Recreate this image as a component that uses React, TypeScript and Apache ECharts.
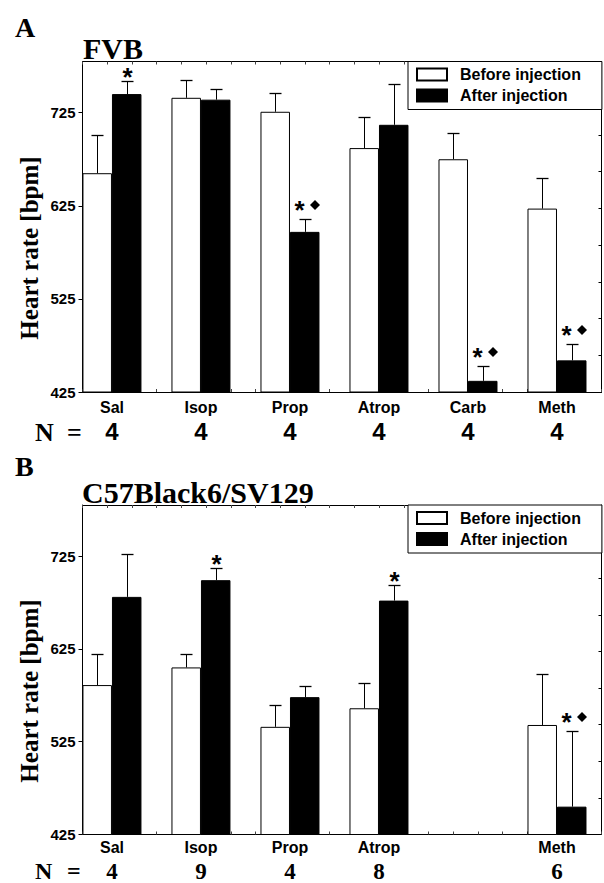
import React, { useEffect, useRef } from 'react';
import * as echarts from 'echarts';

// ---------- data ----------
const categoriesA = ['Sal', 'Isop', 'Prop', 'Atrop', 'Carb', 'Meth'];
const nA = [4, 4, 4, 4, 4, 4];
const beforeA = [660, 741, 726, 687, 675, 622];
const beforeErrA = [701, 760, 746, 720, 703, 655];
const afterA = [745, 739, 597, 712, 437, 459];
const afterErrA = [759, 750, 611, 756, 453, 477];
const markersA = ['*', '', '*◆', '', '*◆', '*◆'];

const categoriesB = ['Sal', 'Isop', 'Prop', 'Atrop', '', 'Meth'];
const nB: (number | null)[] = [4, 9, 4, 8, null, 6];
const beforeB: (number | null)[] = [586, 605, 541, 561, null, 543];
const beforeErrB: (number | null)[] = [620, 620, 565, 588, null, 598];
const afterB: (number | null)[] = [681, 699, 573, 677, null, 455];
const afterErrB: (number | null)[] = [727, 712, 585, 694, null, 536];
const markersB = ['', '*', '', '*', '', '*◆'];

const yTickValues = [425, 525, 625, 725];
const Y_MIN = 425;
const Y_MAX = 780;

const SERIES_BEFORE = 'Before injection';
const SERIES_AFTER = 'After injection';

// ---------- style constants ----------
const SANS = '"Liberation Sans", Arial, Helvetica, sans-serif';
const SERIF = '"Liberation Serif", "Times New Roman", serif';
const BAR_W = 29.5;
const CAP = 12;
const STAR_SIZE = 26;

function star(x: number, y: number) {
  return {
    type: 'text',
    style: {
      text: '*', x, y: y + STAR_SIZE * 0.21, fill: '#000', fontSize: STAR_SIZE, fontWeight: 'bold', fontFamily: SANS,
      align: 'center', verticalAlign: 'middle', lineHeight: 12,
    },
  };
}
function diamond(x: number, y: number) {
  return {
    type: 'polygon',
    shape: { points: [[x, y - 5], [x + 5, y], [x, y + 5], [x - 5, y]] },
    style: { fill: '#000' },
  };
}

function makeErr(side: number, markers: string[]) {
  return (params: any, api: any) => {
    const x = api.value(0);
    const v = api.value(1);
    const e = api.value(2);
    if (isNaN(v) || isNaN(e)) return null;
    const b = api.coord([x, v]);
    const t = api.coord([x, e]);
    const cx = Math.round(b[0] + (side * BAR_W) / 2) + 0.5;
    const ty = Math.round(t[1]) + 0.5;
    const children: any[] = [
      { type: 'line', shape: { x1: cx, y1: b[1], x2: cx, y2: ty }, style: { stroke: '#000', lineWidth: 1 } },
      { type: 'line', shape: { x1: cx - CAP / 2, y1: ty, x2: cx + CAP / 2, y2: ty }, style: { stroke: '#000', lineWidth: 1.3 } },
    ];
    const m = markers[params.dataIndex] || '';
    if (m === '*') {
      children.push(star(cx, ty - 9.5));
    } else if (m) {
      children.push(star(cx - 6, ty - 14.5));
      children.push(diamond(cx + 9.5, ty - 14.5));
    }
    return { type: 'group', children };
  };
}

function pairs(vals: (number | null)[]) {
  return vals.map((v, i) => [i, v == null ? null : v]);
}
function triples(vals: (number | null)[], errs: (number | null)[]) {
  return vals.map((v, i) => [i, v == null ? null : v, errs[i] == null ? null : errs[i]]);
}

function panelAxes(gridIndex: number, cats: string[], ns: (number | null)[], nFont: string, nSize: number, margin: number) {
  const idx = cats.map((c, i) => (c ? i : -1)).filter((i) => i >= 0);
  const xAxes = [
    {
      type: 'value', gridIndex, position: 'bottom', min: -0.331, max: 5.5,
      axisLine: { show: true, onZero: false, lineStyle: { color: '#000', width: 1 } },
      axisTick: { show: false },
      splitLine: { show: false },
      axisLabel: {
        show: true, customValues: idx, margin, interval: 0, hideOverlap: false,
        formatter: (val: number) => {
          const i = Math.round(val);
          return `{c|${cats[i]}}\n{n|${ns[i] ?? ''}}`;
        },
        rich: {
          c: { fontSize: 16, fontWeight: 'bold', fontFamily: SANS, color: '#000', lineHeight: 24 },
          n: { fontSize: nSize, fontWeight: 'bold', fontFamily: nFont, color: '#000', lineHeight: 24 },
        },
      },
    },
    {
      type: 'value', gridIndex, position: 'top', min: 0, max: 21, interval: 1,
      axisLine: { show: true, onZero: false, lineStyle: { color: '#000', width: 1 } },
      axisTick: { show: true, inside: true, length: 3, lineStyle: { color: '#444', width: 1 } },
      axisLabel: { show: false },
      splitLine: { show: false },
    },
    {
      type: 'value', gridIndex, position: 'bottom', min: 0, max: 21, interval: 1,
      axisLine: { show: false, onZero: false },
      axisTick: { show: true, inside: true, length: 3, lineStyle: { color: '#444', width: 1 } },
      axisLabel: { show: false },
      splitLine: { show: false },
    },
  ];
  const yAxes = [
    {
      type: 'value', gridIndex, position: 'left', min: Y_MIN, max: Y_MAX,
      axisLine: { show: true, onZero: false, lineStyle: { color: '#000', width: 1 } },
      axisTick: { show: true, inside: false, length: 4, customValues: yTickValues, lineStyle: { color: '#000' } },
      axisLabel: {
        show: true, customValues: yTickValues, margin: 7, color: '#000',
        fontSize: 15, fontWeight: 'bold', fontFamily: SANS,
      },
      splitLine: { show: false },
    },
    {
      type: 'value', gridIndex, position: 'right', min: 0, max: 9, interval: 1,
      axisLine: { show: true, onZero: false, lineStyle: { color: '#000', width: 1 } },
      axisTick: { show: true, inside: true, length: 3, lineStyle: { color: '#000' } },
      axisLabel: { show: false },
      splitLine: { show: false },
    },
  ];
  return { xAxes, yAxes };
}

function panelSeries(
  xAxisIndex: number, yAxisIndex: number,
  before: (number | null)[], beforeErr: (number | null)[],
  after: (number | null)[], afterErr: (number | null)[], markers: string[],
) {
  return [
    {
      type: 'bar', name: SERIES_BEFORE, xAxisIndex, yAxisIndex, barWidth: BAR_W, barGap: '0%',
      itemStyle: { color: '#fff', borderColor: '#000', borderWidth: 1 },
      data: pairs(before), z: 2,
    },
    {
      type: 'bar', name: SERIES_AFTER, xAxisIndex, yAxisIndex, barWidth: BAR_W, barGap: '0%',
      itemStyle: { color: '#000', borderColor: '#000', borderWidth: 1 },
      data: pairs(after), z: 2,
    },
    {
      type: 'custom', xAxisIndex, yAxisIndex, renderItem: makeErr(-1, ['', '', '', '', '', '']),
      data: triples(before, beforeErr), z: 3, silent: true, clip: false,
      encode: { x: 0, y: 1 },
    },
    {
      type: 'custom', xAxisIndex, yAxisIndex, renderItem: makeErr(1, markers),
      data: triples(after, afterErr), z: 3, silent: true, clip: false,
      encode: { x: 0, y: 1 },
    },
  ];
}

function legendFor(top: number) {
  return {
    left: 408, top, orient: 'vertical', icon: 'rect',
    data: [SERIES_BEFORE, SERIES_AFTER],
    itemWidth: 30, itemHeight: 12, itemGap: 5,
    padding: [5, 21, 6, 8],
    borderColor: '#000', borderWidth: 1, backgroundColor: '#fff',
    selectedMode: false,
    textStyle: { fontSize: 16, fontWeight: 'bold', fontFamily: SANS, color: '#000', lineHeight: 16, padding: [0, 0, 0, 8] },
    z: 10,
  };
}

function txt(text: string, x: number, y: number, size: number, family: string, align = 'left', rotation = 0) {
  return {
    type: 'text', x, y, rotation,
    style: { text, x: 0, y: 0, fill: '#000', fontSize: size, fontWeight: 'bold', fontFamily: family, align, verticalAlign: 'middle' },
  };
}

export default function App() {
  const ref = useRef<HTMLDivElement>(null);
  useEffect(() => {
    if (!ref.current) return;
    const chart = echarts.init(ref.current, undefined, { renderer: 'svg' });
    const a = panelAxes(0, categoriesA, nA, SANS, 24, 3);
    const b = panelAxes(1, categoriesB, nB, SERIF, 23, 1);
    const option: any = {
      animation: false,
      backgroundColor: '#fff',
      grid: [
        { left: 82.5, top: 61.5, width: 519, height: 330.5 },
        { left: 82.5, top: 505, width: 519, height: 330 },
      ],
      xAxis: [...a.xAxes, ...b.xAxes],
      yAxis: [...a.yAxes, ...b.yAxes],
      legend: [legendFor(61.5), legendFor(505)],
      series: [
        ...panelSeries(0, 0, beforeA, beforeErrA, afterA, afterErrA, markersA),
        ...panelSeries(3, 2, beforeB, beforeErrB, afterB, afterErrB, markersB),
      ],
      graphic: [
        txt('A', 15, 27, 28, SERIF),
        txt('FVB', 83, 48, 30, SERIF),
        txt('Heart rate [bpm]', 29, 248, 25, SERIF, 'center', Math.PI / 2),
        txt('N', 35, 432, 26, SERIF),
        txt('=', 67, 432, 26, SERIF),
        txt('B', 15, 466, 28, SERIF),
        txt('C57Black6/SV129', 82, 492, 30, SERIF),
        txt('Heart rate [bpm]', 29, 691, 25, SERIF, 'center', Math.PI / 2),
        txt('N', 35, 871, 24, SERIF),
        txt('=', 67, 871, 24, SERIF),
      ],
    };
    chart.setOption(option);
    return () => chart.dispose();
  }, []);
  return (
    <div
      ref={ref}
      style={{ position: 'fixed', left: 0, top: 0, width: 604, height: 883, background: '#fff' }}
    />
  );
}
